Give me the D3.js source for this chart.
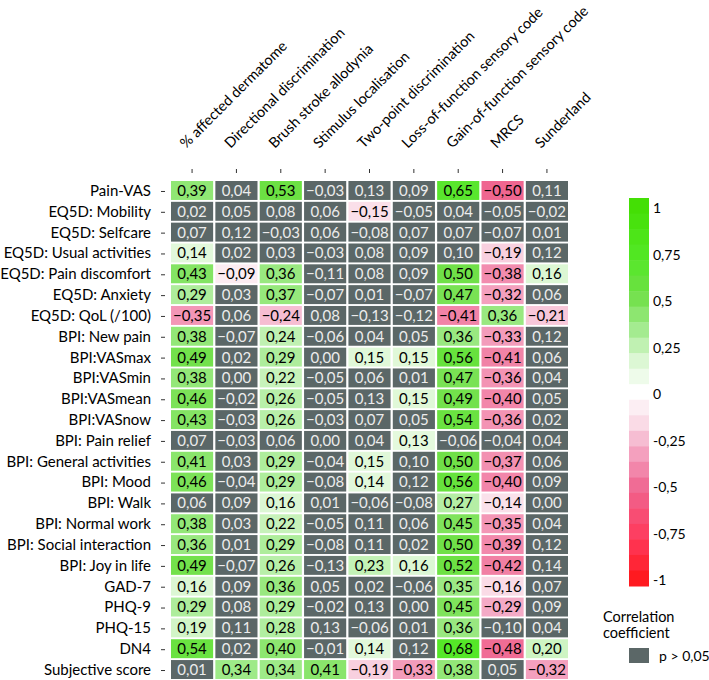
<!DOCTYPE html>
<html><head><meta charset="utf-8">
<script src="https://cdn.jsdelivr.net/npm/d3@7"></script>
<style>body{margin:0;background:#fff}svg{display:block}text{font-family:Lato,"Open Sans",sans-serif}</style>
</head><body><svg id="c" width="709" height="680"></svg>
<script>
const columns = ["% affected dermatome","Directional discrimination","Brush stroke allodynia","Stimulus localisation","Two-point discrimination","Loss-of-function sensory code","Gain-of-function sensory code","MRCS","Sunderland"];
const rows = ["Pain-VAS","EQ5D: Mobility","EQ5D: Selfcare","EQ5D: Usual activities","EQ5D: Pain discomfort","EQ5D: Anxiety","EQ5D: QoL (/100)","BPI: New pain","BPI:VASmax","BPI:VASmin","BPI:VASmean","BPI:VASnow","BPI: Pain relief","BPI: General activities","BPI: Mood","BPI: Walk","BPI: Normal work","BPI: Social interaction","BPI: Joy in life","GAD-7","PHQ-9","PHQ-15","DN4","Subjective score"];
const values = [
[0.39,0.04,0.53,-0.03,0.13,0.09,0.65,-0.50,0.11],
[0.02,0.05,0.08,0.06,-0.15,-0.05,0.04,-0.05,-0.02],
[0.07,0.12,-0.03,0.06,-0.08,0.07,0.07,-0.07,0.01],
[0.14,0.02,0.03,-0.03,0.08,0.09,0.10,-0.19,0.12],
[0.43,-0.09,0.36,-0.11,0.08,0.09,0.50,-0.38,0.16],
[0.29,0.03,0.37,-0.07,0.01,-0.07,0.47,-0.32,0.06],
[-0.35,0.06,-0.24,0.08,-0.13,-0.12,-0.41,0.36,-0.21],
[0.38,-0.07,0.24,-0.06,0.04,0.05,0.36,-0.33,0.12],
[0.49,0.02,0.29,0.00,0.15,0.15,0.56,-0.41,0.06],
[0.38,0.00,0.22,-0.05,0.06,0.01,0.47,-0.36,0.04],
[0.46,-0.02,0.26,-0.05,0.13,0.15,0.49,-0.40,0.05],
[0.43,-0.03,0.26,-0.03,0.07,0.05,0.54,-0.36,0.02],
[0.07,-0.03,0.06,0.00,0.04,0.13,-0.06,-0.04,0.04],
[0.41,0.03,0.29,-0.04,0.15,0.10,0.50,-0.37,0.06],
[0.46,-0.04,0.29,-0.08,0.14,0.12,0.56,-0.40,0.09],
[0.06,0.09,0.16,0.01,-0.06,-0.08,0.27,-0.14,0.00],
[0.38,0.03,0.22,-0.05,0.11,0.06,0.45,-0.35,0.04],
[0.36,0.01,0.29,-0.08,0.11,0.02,0.50,-0.39,0.12],
[0.49,-0.07,0.26,-0.13,0.23,0.16,0.52,-0.42,0.14],
[0.16,0.09,0.36,0.05,0.02,-0.06,0.35,-0.16,0.07],
[0.29,0.08,0.29,-0.02,0.13,0.00,0.45,-0.29,0.09],
[0.19,0.11,0.28,0.13,-0.06,0.01,0.36,-0.10,0.04],
[0.54,0.02,0.40,-0.01,0.14,0.12,0.68,-0.48,0.20],
[0.01,0.34,0.34,0.41,-0.19,-0.33,0.38,0.05,-0.32]
];
// 1 = significant (p <= 0,05), 0 = p > 0,05
const significant = [
[1,0,1,0,0,0,1,1,0],
[0,0,0,0,1,0,0,0,0],
[0,0,0,0,0,0,0,0,0],
[1,0,0,0,0,0,0,1,0],
[1,1,1,0,0,0,1,1,1],
[1,0,1,0,0,0,1,1,0],
[1,0,1,0,0,0,1,1,1],
[1,0,1,0,0,0,1,1,0],
[1,0,1,0,1,1,1,1,0],
[1,0,1,0,0,0,1,1,0],
[1,0,1,0,0,1,1,1,0],
[1,0,1,0,0,0,1,1,0],
[0,0,0,0,0,1,0,0,0],
[1,0,1,0,1,0,1,1,0],
[1,0,1,0,1,0,1,1,0],
[0,0,1,0,0,0,1,1,0],
[1,0,1,0,0,0,1,1,0],
[1,0,1,0,0,0,1,1,0],
[1,0,1,0,1,1,1,1,0],
[1,0,1,0,0,0,1,1,0],
[1,0,1,0,0,0,1,1,0],
[1,0,1,0,0,0,1,0,0],
[1,0,1,0,1,0,1,1,1],
[0,1,1,1,1,1,1,0,1]
];
const legendTicks = [1,0.75,0.5,0.25,0,-0.25,-0.5,-0.75,-1];

const fmt = v => d3.format(".2f")(v).replace(".", ",");
const fmtTick = v => String(v).replace(".", ",");

const color = d3.scaleLinear()
  .domain([-1,-0.75,-0.5,-0.3,-0.15,0,0.15,0.3,0.5,0.7,1])
  .range(["#ff1414","#ff3a5c","#ef6690","#f4a6c3","#fadfe9","#ffffff","#e0f8d8","#aaec98","#70e048","#52e824","#42de00"])
  .clamp(true);
const grey = "#5b6767";

const svg = d3.select("#c");
const x = d3.scaleBand().domain(d3.range(columns.length)).range([171,568]).paddingInner(0.05);
const y = d3.scaleBand().domain(d3.range(rows.length)).range([181,679]).paddingInner(0.09);

const cells = [];
values.forEach((r,i)=>r.forEach((v,j)=>cells.push({i,j,v,s:significant[i][j]})));

const g = svg.append("g");
g.selectAll("rect.cell").data(cells).join("rect").attr("class","cell")
  .attr("x",d=>x(d.j)).attr("y",d=>y(d.i))
  .attr("width",x.bandwidth()).attr("height",y.bandwidth())
  .attr("fill",d=>d.s?color(d.v):grey);
g.selectAll("text.val").data(cells).join("text").attr("class","val")
  .attr("x",d=>x(d.j)+x.bandwidth()/2).attr("y",d=>y(d.i)+y.bandwidth()/2)
  .attr("dy","0.36em").attr("text-anchor","middle")
  .attr("font-size",15)
  .attr("fill",d=>d.s?"#000":"#ececec")
  .text(d=>fmt(d.v));

// row labels & ticks
svg.selectAll("text.row").data(rows).join("text").attr("class","row")
  .attr("x",151).attr("y",(d,i)=>y(i)+y.bandwidth()/2).attr("dy","0.36em")
  .attr("text-anchor","end").attr("font-size",15).attr("fill","#000").text(d=>d);
svg.selectAll("line.rtick").data(rows).join("line").attr("class","rtick")
  .attr("x1",161).attr("x2",165)
  .attr("y1",(d,i)=>y(i)+y.bandwidth()/2+1).attr("y2",(d,i)=>y(i)+y.bandwidth()/2+1)
  .attr("stroke","#333").attr("stroke-width",1);

// column labels & ticks
svg.selectAll("text.col").data(columns).join("text").attr("class","col")
  .attr("transform",(d,i)=>`translate(${x(i)+x.bandwidth()/2-6},149) rotate(-45)`)
  .attr("font-size",14.5).attr("fill","#000").text(d=>d);
svg.selectAll("line.ctick").data(columns).join("line").attr("class","ctick")
  .attr("x1",(d,i)=>x(i)+x.bandwidth()/2).attr("x2",(d,i)=>x(i)+x.bandwidth()/2)
  .attr("y1",169).attr("y2",173).attr("stroke","#333").attr("stroke-width",1);

// legend colour bar (25 bands)
const nb = 25, barTop = 198, barBot = 586, bh = (barBot-barTop)/nb;
const bands = d3.range(nb).map(k=>1 - (k+0.5)*2/nb);
svg.selectAll("rect.band").data(bands).join("rect").attr("class","band")
  .attr("x",629).attr("width",20)
  .attr("y",(d,k)=>barTop+k*bh).attr("height",bh+0.5)
  .attr("fill",d=>color(Math.abs(d)<0.041?0:d));
const ly = d3.scaleLinear().domain([1,-1]).range([208,580]);
svg.selectAll("text.lt").data(legendTicks).join("text").attr("class","lt")
  .attr("x",653).attr("y",d=>ly(d)).attr("dy","0.36em")
  .attr("font-size",14).attr("fill","#000").text(fmtTick);

svg.append("text").attr("x",603).attr("y",622).attr("font-size",14.5).text("Correlation");
svg.append("text").attr("x",603).attr("y",638).attr("font-size",14.5).text("coefficient");
svg.append("rect").attr("x",629).attr("y",648).attr("width",20).attr("height",15).attr("fill",grey);
svg.append("text").attr("x",659).attr("y",655.5).attr("dy","0.36em").attr("font-size",14).text("p > 0,05");
</script></body></html>
